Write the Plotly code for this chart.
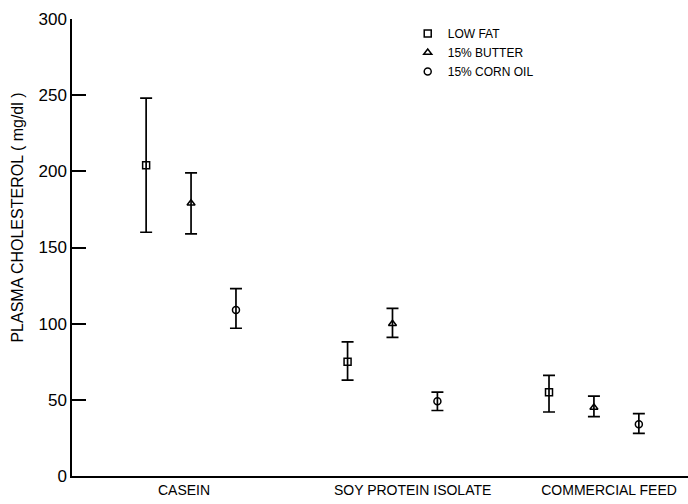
import plotly.graph_objects as go

# ---- data ----
categories = ["CASEIN", "SOY PROTEIN ISOLATE", "COMMERCIAL FEED"]
series_names = ["LOW FAT", "15% BUTTER", "15% CORN OIL"]
group_pos = [1, 2, 3]
series_offsets = [-0.223, 0.0, 0.223]

low_fat = [204, 75, 55]
low_fat_hi = [248, 88, 66]
low_fat_lo = [160, 63, 42]

butter = [179, 100, 45]
butter_hi = [199, 110, 52.5]
butter_lo = [159, 91, 39]

corn_oil = [109, 49, 34]
corn_oil_hi = [123, 55, 41]
corn_oil_lo = [97, 43, 28]

y_ticks = [0, 50, 100, 150, 200, 250, 300]
label_pos = [0.965, 2.1, 3.075]

series = [
    (series_names[0], low_fat, low_fat_hi, low_fat_lo, "square-open"),
    (series_names[1], butter, butter_hi, butter_lo, "triangle-up-open"),
    (series_names[2], corn_oil, corn_oil_hi, corn_oil_lo, "circle-open"),
]

FONT = "Liberation Sans, Arial, sans-serif"

fig = go.Figure()
for (name, vals, hi, lo, sym), off in zip(series, series_offsets):
    xs = [g + off for g in group_pos]
    fig.add_trace(go.Scatter(
        x=xs, y=vals, mode="markers", name=name,
        marker=dict(symbol=sym, size=7, color="black", line=dict(width=1.5, color="black")),
        error_y=dict(type="data", symmetric=False,
                     array=[h - v for h, v in zip(hi, vals)],
                     arrayminus=[v - l for v, l in zip(vals, lo)],
                     color="black", thickness=1.7, width=6),
    ))

fig.update_layout(
    width=688, height=504,
    margin=dict(l=72, r=0, t=19, b=28),
    paper_bgcolor="white", plot_bgcolor="white",
    font=dict(family=FONT, color="black", size=14),
    showlegend=True,
    legend=dict(x=0.545, y=1.0, xanchor="left", yanchor="top",
                font=dict(size=12, family=FONT), bgcolor="rgba(0,0,0,0)",
                itemwidth=30, tracegroupgap=0),
    xaxis=dict(range=[0.409, 3.467], showgrid=False, zeroline=False,
               showline=True, linecolor="black", linewidth=1.5,
               tickvals=label_pos, ticktext=categories, ticks="",
               tickfont=dict(size=14, family=FONT)),
    yaxis=dict(range=[0, 300], showgrid=False, zeroline=False,
               showline=True, linecolor="black", linewidth=1.5,
               tickvals=y_ticks, ticks="inside", ticklen=14, tickwidth=1.5,
               tickcolor="black", tickfont=dict(size=17, family=FONT)),
)

fig.add_annotation(
    text="PLASMA CHOLESTEROL ( mg/dl )", textangle=-90,
    xref="paper", yref="paper", x=-0.088, y=0.565,
    xanchor="center", yanchor="middle", showarrow=False,
    font=dict(size=16, family=FONT),
)

fig.write_html("out.html")
